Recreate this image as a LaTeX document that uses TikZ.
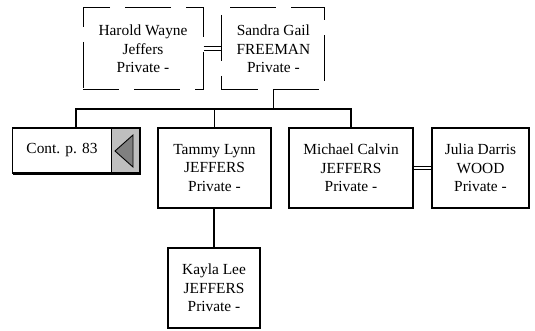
\documentclass[tikz,border=0pt]{standalone}
\usepackage{fontspec}
\setmainfont{Liberation Serif}
\begin{document}
\begin{tikzpicture}[x=1pt,y=-1pt,
  every node/.style={font=\fontsize{15.4}{18.3}\selectfont, align=center, inner sep=0pt},
  pbox/.style={draw, line width=1.7pt, minimum height=80pt},
  dbox/.style={draw, line width=1pt, dash pattern=on 46pt off 15pt, dash phase=10pt, minimum height=82pt},
  conn/.style={line width=1.7pt},
  dbl/.style={double, line width=1pt, double distance=2.8pt}]
\useasboundingbox (0,0) rectangle (535,330);
% parents
\node[dbox, minimum width=120pt] (harold) at (143,48.8) {Harold Wayne\\Jeffers\\Private -};
\node[dbox, minimum width=103pt] (sandra) at (273.4,48.8) {Sandra Gail\\FREEMAN\\Private -};
% children
\node[draw=none, minimum width=127pt, minimum height=45pt] (cont) at (76.3,150.5) {};
\fill[white] (cont.north west) rectangle (111,173);
\fill[gray!50] (111,128) rectangle (cont.south east);
\draw[line width=0.9pt, fill=gray] (115,151) -- (133,135) -- (133,167) -- cycle;
\draw[line width=1.6pt] (cont.north west) rectangle (cont.south east);
\draw[line width=2.8pt] (cont.south west) -- (cont.south east) -- (cont.north east);
\draw[line width=0.7pt] (111,128) -- (111,173);
\node (conttext) at (62,150.5) {Cont. p. 83};
\node[pbox, minimum width=113pt] (tammy) at (214.5,168) {Tammy Lynn\\JEFFERS\\Private -};
\node[pbox, minimum width=124pt] (michael) at (351,168) {Michael Calvin\\JEFFERS\\Private -};
\node[pbox, minimum width=97pt] (julia) at (480.5,168) {Julia Darris\\WOOD\\Private -};
\node[pbox, minimum width=92pt] (kayla) at (214,288) {Kayla Lee\\JEFFERS\\Private -};
% connectors
\coordinate (bar) at (273.4,109);
\draw[dbl] (harold.east) -- (sandra.west);
\draw[dbl] (michael.east) -- (julia.west);
\draw[conn] (sandra.south) -- (bar);
\draw[conn] (cont.north) |- (michael.north |- bar) -- (michael.north);
\draw[conn] (tammy.north) -- (tammy.north |- bar);
\draw[conn] (kayla.north) -- (kayla.north |- tammy.south);
\end{tikzpicture}
\end{document}
